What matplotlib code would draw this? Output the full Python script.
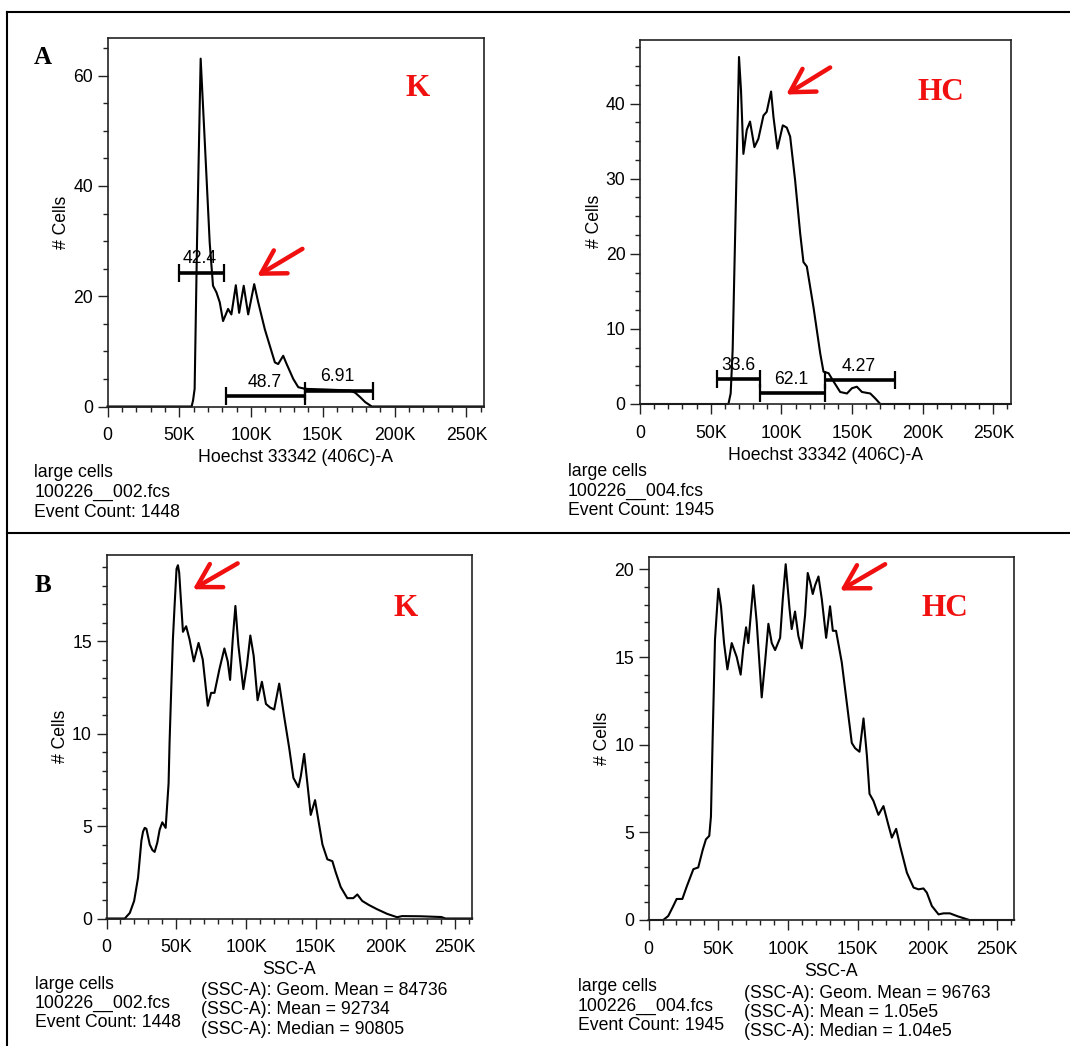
"""
plot.py
Flow cytometry histograms (Hoechst DNA content and SSC) for K and HC samples.
"""

import numpy as np
import matplotlib.pyplot as plt
from matplotlib.lines import Line2D
from matplotlib.ticker import MultipleLocator, FuncFormatter

plt.rcParams['font.family'] = ['Liberation Sans', 'DejaVu Sans']

W, H = 1070, 1046
XMAX = 262144

# ---- data (x in thousands, y = # cells) ----
# A / K : Hoechst 33342 (406C)-A
hoechst_k_x = [0, 58.6, 59.6, 60.7, 62.4, 64.9, 67.7, 71.2, 73.5, 75.9, 78.2, 80.5, 84.0,
               86.3, 89.4, 91.7, 94.9, 98.0, 102.2, 105.0, 109.6, 116.6, 118.9, 122.4,
               124.8, 129.4, 132.9, 137.6, 150.4, 169.0, 172.5, 176.0, 179.5, 184.1, 262.1]
hoechst_k_y = [0, 0, 1.1, 3.2, 30.3, 63.1, 48.4, 29.7, 21.9, 20.7, 18.9, 15.5, 17.7,
               16.7, 22.0, 17.0, 21.9, 16.7, 22.2, 18.9, 14.0, 8.0, 7.7, 9.2,
               7.7, 5.0, 3.5, 3.2, 3.1, 2.9, 2.5, 1.7, 0.8, 0, 0]

# A / HC : Hoechst 33342 (406C)-A
hoechst_hc_x = [0, 62.5, 64.1, 65.5, 70.0, 71.4, 73.1, 75.5, 77.8, 80.9, 83.7, 87.3, 89.6,
                92.7, 94.4, 97.2, 101.0, 103.8, 106.2, 109.7, 113.3, 115.6, 118.0, 122.7,
                127.5, 129.8, 133.4, 136.9, 141.6, 146.4, 149.9, 153.4, 157.0, 162.9,
                166.4, 170.0, 262.1]
hoechst_hc_y = [0, 0, 1.4, 7.2, 46.2, 41.8, 33.3, 36.5, 37.6, 34.2, 35.3, 38.4, 38.9,
                41.6, 38.2, 34.0, 37.1, 36.8, 35.6, 29.8, 22.7, 18.9, 18.3, 12.9,
                6.7, 4.3, 4.1, 3.0, 1.6, 1.4, 2.1, 2.3, 1.6, 1.4,
                0.75, 0, 0]

# B / K : SSC-A
ssc_k_x = [0, 13.1, 16.7, 19.8, 22.6, 25.0, 26.2, 27.4, 28.6, 31.0, 32.9, 34.5, 36.4, 38.1,
           40.0, 42.4, 44.5, 45.2, 46.4, 47.6, 48.8, 50.2, 51.2, 52.1, 53.1, 54.8, 57.1, 59.5,
           62.6, 66.0, 69.0, 72.6, 75.0, 77.4, 81.0, 84.5, 86.9, 88.6,
           90.5, 92.4, 94.5, 98.1, 100.7, 103.1, 105.5, 108.3, 111.4, 114.3,
           117.4, 120.2, 123.8, 127.4, 131.0, 134.0, 137.6, 139.3, 141.7, 144.0,
           146.4, 149.5, 151.7, 154.8, 158.3, 161.9, 164.3, 167.9, 172.6, 176.9,
           179.8, 183.3, 188.1, 194.0, 201.2, 208.3, 211.9, 225.0, 240.0, 243.0, 262.1]
ssc_k_y = [0, 0, 0.3, 0.95, 2.2, 4.2, 4.7, 4.9, 4.85, 4.0, 3.7, 3.6, 4.1, 4.8,
           5.2, 4.9, 7.3, 9.5, 12.4, 15.1, 16.9, 18.9, 19.1, 18.7, 17.5, 15.5, 15.8, 15.1,
           13.9, 14.9, 14.0, 11.5, 12.2, 12.2, 13.5, 14.6, 13.9, 12.9,
           15.1, 16.9, 14.8, 12.4, 13.7, 15.3, 14.2, 11.8, 12.8, 11.6,
           11.4, 11.3, 12.7, 10.9, 9.2, 7.6, 7.1, 7.7, 8.9, 7.3,
           5.6, 6.4, 5.4, 4.0, 3.2, 3.1, 2.5, 1.7, 1.1, 1.1,
           1.3, 0.95, 0.73, 0.5, 0.25, 0.07, 0.13, 0.12, 0.08, 0, 0]

# B / HC : SSC-A
ssc_hc_x = [0, 10.5, 14.1, 17.7, 20.1, 24.2, 27.3, 32.1, 35.6, 38.8,
            41.1, 43.5, 44.7, 45.9, 47.6, 50.0, 51.9, 54.1, 56.5, 59.6,
            63.2, 66.0, 67.9, 69.9, 71.5, 75.1, 77.5, 81.1, 83.5, 85.9,
            88.3, 90.7, 94.3, 96.2, 98.3, 101.0, 102.6, 105.0, 107.4, 109.8,
            112.2, 114.1, 115.8, 117.7, 119.4, 121.8, 124.2, 127.3, 130.1, 132.1,
            134.4, 138.5, 142.1, 145.7, 148.1, 151.2, 154.1, 156.5, 158.4, 161.2,
            164.8, 168.4, 172.0, 174.4, 177.5, 180.4, 185.2, 190.0, 193.5, 197.1,
            199.5, 203.1, 207.9, 211.5, 216.0, 222.0, 228.0, 230.0, 262.1]
ssc_hc_y = [0, 0, 0.23, 0.8, 1.2, 1.2, 1.9, 2.9, 3.0, 4.0,
            4.6, 4.8, 5.9, 10.3, 16.0, 18.9, 17.9, 15.8, 14.3, 15.8,
            15.0, 14.0, 15.5, 16.7, 15.8, 19.1, 17.0, 12.7, 14.7, 16.9,
            15.8, 15.4, 16.1, 18.3, 20.3, 17.8, 16.6, 17.6, 16.2, 15.5,
            17.4, 19.8, 19.3, 18.6, 19.1, 19.6, 18.3, 16.1, 17.9, 16.5,
            16.5, 14.7, 12.4, 10.1, 9.8, 9.6, 11.5, 9.4, 7.2, 6.8,
            6.0, 6.5, 5.4, 4.7, 5.2, 4.2, 2.7, 1.85, 1.75, 1.8,
            1.56, 0.8, 0.32, 0.38, 0.38, 0.2, 0.05, 0, 0]

# range gates: (start K, end K, height), label, label position (K, y)
gates_k = [(49.8, 81.0, 24.3), (82.5, 137.4, 1.84), (137.4, 184.8, 2.76)]
gate_labels_k = ['42.4', '48.7', '6.91']
gate_label_pos_k = [(64.5, 26.0), (109.5, 3.55), (160.0, 4.6)]

gates_hc = [(54.2, 85.1, 3.27), (85.1, 131.0, 1.48), (131.0, 180.1, 3.23)]
gate_labels_hc = ['33.6', '62.1', '4.27']
gate_label_pos_hc = [(69.4, 4.5), (106.9, 2.7), (154.5, 4.35)]

info_k = ['large cells', '100226__002.fcs', 'Event Count: 1448']
info_hc = ['large cells', '100226__004.fcs', 'Event Count: 1945']
stats_k = ['(SSC-A): Geom. Mean = 84736', '(SSC-A): Mean = 92734',
           '(SSC-A): Median = 90805']
stats_hc = ['(SSC-A): Geom. Mean = 96763', '(SSC-A): Mean = 1.05e5',
            '(SSC-A): Median = 1.04e5']

# arrow (tail -> head) in data coords, K units
arrows = [((135.8, 28.6), (104.3, 23.7)),
          ((134.5, 44.8), (103.4, 41.2)),
          ((94.0, 19.2), (61.9, 17.8)),
          ((169.6, 20.3), (137.3, 18.8))]

RED = '#f01010'
FS = 12.7


def px_rect(l, t, r, b):
    return [l / W, 1 - b / H, (r - l) / W, (b - t) / H]


def kfmt(v, pos):
    return '0' if v == 0 else f'{int(round(v / 1000))}K'


def style_axis(ax, ymax, ymajor, yminor, xlabel):
    ax.set_xlim(0, XMAX)
    ax.set_ylim(0, ymax)
    ax.xaxis.set_major_locator(MultipleLocator(50000))
    ax.xaxis.set_minor_locator(MultipleLocator(10000))
    ax.xaxis.set_major_formatter(FuncFormatter(kfmt))
    ax.yaxis.set_major_locator(MultipleLocator(ymajor))
    ax.yaxis.set_minor_locator(MultipleLocator(yminor))
    ax.tick_params(which='major', direction='out', length=7, width=1.0,
                   labelsize=FS, color='#222222')
    ax.tick_params(which='minor', direction='out', length=3.5, width=1.0,
                   color='#222222')
    ax.tick_params(axis='x', which='major', pad=8)
    ax.tick_params(axis='y', which='major', pad=3.5)
    for s in ax.spines.values():
        s.set_linewidth(1.2)
        s.set_color('#222222')
    ax.set_xlabel(xlabel, fontsize=FS, labelpad=3.5)
    ax.set_ylabel('# Cells', fontsize=FS, labelpad=2)


def draw_gates(ax, gates, labels, label_pos):
    for (x0, x1, gy), lab, (lx, ly) in zip(gates, labels, label_pos):
        ax.plot([x0 * 1000, x1 * 1000], [gy, gy], color='black', lw=2.6,
                solid_capstyle='butt', zorder=3)
        ax.plot([x0 * 1000, x1 * 1000], [gy, gy], ls='none', marker='|',
                markersize=13, markeredgewidth=1.6, color='black', zorder=3)
        ax.text(lx * 1000, ly, lab, ha='center', va='baseline', fontsize=FS)


def draw_arrow(ax, tail, head):
    ax.annotate('', xy=(head[0] * 1000, head[1]), xytext=(tail[0] * 1000, tail[1]),
                arrowprops=dict(arrowstyle='->,head_length=0.55,head_width=0.32',
                                color=RED, lw=3.2, mutation_scale=30,
                                shrinkA=0, shrinkB=0),
                annotation_clip=False)


fig = plt.figure(figsize=(W / 100, H / 100), dpi=100)

panels = [
    (px_rect(107.5, 37.7, 483.8, 406.5), hoechst_k_x, hoechst_k_y, 66.9, 20, 5,
     'Hoechst 33342 (406C)-A'),
    (px_rect(640.1, 39.7, 1010.5, 404.0), hoechst_hc_x, hoechst_hc_y, 48.5, 10, 2.5,
     'Hoechst 33342 (406C)-A'),
    (px_rect(106.5, 554.5, 472.2, 918.5), ssc_k_x, ssc_k_y, 19.68, 5, 1, 'SSC-A'),
    (px_rect(648.6, 556.5, 1014.2, 920.0), ssc_hc_x, ssc_hc_y, 20.74, 5, 1, 'SSC-A'),
]

axes = []
for rect, xs, ys, ymax, ymaj, ymin, xlab in panels:
    ax = fig.add_axes(rect)
    ax.plot(np.array(xs) * 1000, ys, color='black', lw=1.5, clip_on=False, zorder=2,
            solid_joinstyle='round')
    style_axis(ax, ymax, ymaj, ymin, xlab)
    axes.append(ax)

draw_gates(axes[0], gates_k, gate_labels_k, gate_label_pos_k)
draw_gates(axes[1], gates_hc, gate_labels_hc, gate_label_pos_hc)

for ax, (tail, head) in zip(axes, arrows):
    draw_arrow(ax, tail, head)


# sample info text under each panel
def info_block(lines, left, baselines):
    for line, b in zip(lines, baselines):
        fig.text(left / W, 1 - b / H, line, fontsize=FS, ha='left', va='baseline')


info_block(info_k, 34.5, [477, 497, 516.5])
info_block(info_hc, 568.0, [476, 495.5, 515])
info_block(info_k, 35.0, [989, 1008, 1027])
info_block(stats_k, 201.3, [995, 1014.5, 1034])
info_block(info_hc, 577.7, [991, 1010.5, 1030])
info_block(stats_hc, 743.8, [998, 1017, 1036.5])

# red sample tags and panel letters
serif = ['Liberation Serif', 'DejaVu Serif']
for txt, x, y in [('K', 418, 88), ('HC', 941, 92), ('K', 406, 609), ('HC', 944.5, 608)]:
    fig.text(x / W, 1 - y / H, txt, color=RED, fontsize=22.5, fontweight='bold',
             family=serif, ha='center', va='center')
for txt, x, y in [('A', 43, 57.5), ('B', 43, 585)]:
    fig.text(x / W, 1 - y / H, txt, color='black', fontsize=18, fontweight='bold',
             family=serif, ha='center', va='center')

# outer frame lines
frame_kw = dict(color='black', lw=1.5, transform=fig.transFigure)
fig.add_artist(Line2D([7.3 / W, 1], [1 - 12.3 / H, 1 - 12.3 / H], **frame_kw))
fig.add_artist(Line2D([7.3 / W, 1], [1 - 533.3 / H, 1 - 533.3 / H], **frame_kw))
fig.add_artist(Line2D([7.3 / W, 7.3 / W], [0, 1 - 12.3 / H], **frame_kw))

fig.savefig('out.png', dpi=100)
